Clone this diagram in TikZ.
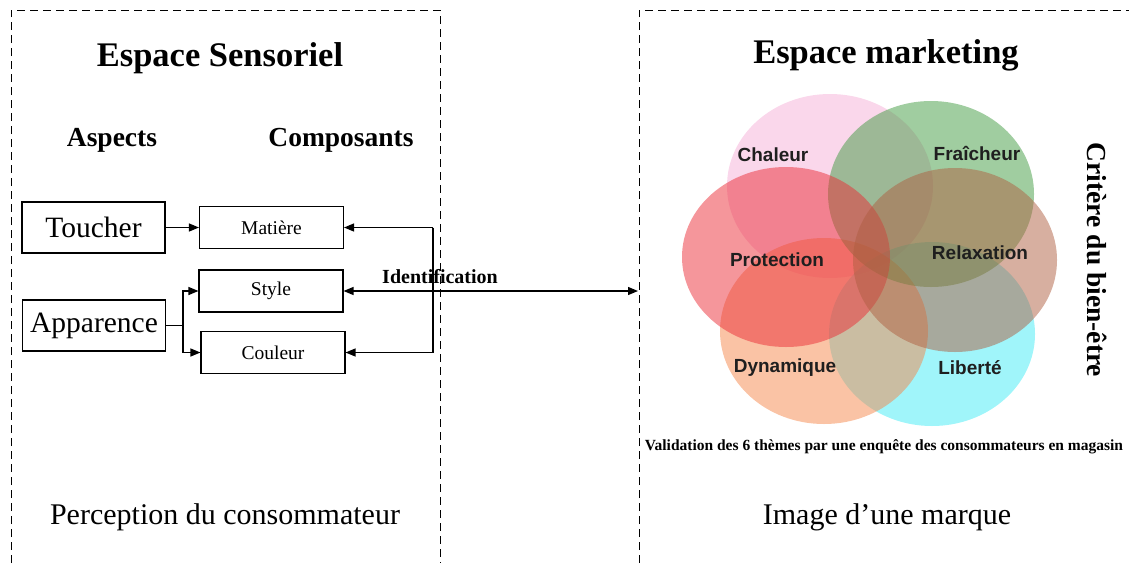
\documentclass[tikz,border=0pt]{standalone}
\usepackage{fontspec}
\setmainfont{Liberation Serif}
\newfontfamily\vennfont{Liberation Sans}
\usetikzlibrary{arrows.meta}

\definecolor{rose}{RGB}{245,175,215}
\definecolor{vert}{RGB}{65,155,65}
\definecolor{rouge}{RGB}{235,45,55}
\definecolor{brun}{RGB}{175,95,65}
\definecolor{orange}{RGB}{245,135,75}
\definecolor{cyan}{RGB}{65,235,245}

\tikzset{
	cadre/.style={dash pattern=on 8pt off 5pt, line width=0.9pt},
	titre/.style={font=\fontsize{34.5}{40}\selectfont\bfseries},
	entete/.style={font=\fontsize{27.5}{32}\selectfont\bfseries},
	bas/.style={font=\fontsize{30}{36}\selectfont},
	aspect/.style={draw, line width=1.1pt, minimum width=143pt, minimum height=51pt, inner sep=0pt, font=\fontsize{29.5}{34}\selectfont},
	composant/.style={draw, line width=1.1pt, minimum width=144pt, minimum height=42pt, inner sep=0pt, font=\fontsize{19.5}{23}\selectfont},
	fleche/.style={line width=1.3pt, -{Triangle[length=10pt,width=8pt]}},
	doublefleche/.style={line width=1.3pt, {Triangle[length=10pt,width=8pt]}-{Triangle[length=10pt,width=8pt]}},
	bulle/.style={fill opacity=0.5},
	theme/.style={font=\vennfont\bfseries\fontsize{19}{22}\selectfont, text=black!88},
}

\begin{document}
\begin{tikzpicture}[x=1pt, y=-1pt]

	\useasboundingbox (0,0) rectangle (1129,563);

	\draw[cadre] (11,563) |- (440,10) -- (440,563);
	\draw[cadre] (639,563) |- (1129,10);

	\node[titre] (sensoriel) at (220,58) {Espace Sensoriel};
	\node[titre] (marketing) at (886,55) {Espace marketing};
	\node[entete] (aspects) at (112,140) {Aspects};
	\node[entete] (composants) at (341,140) {Composants};

	\node[aspect] (toucher) at (93.5,227.5) {Toucher};
	\node[aspect] (apparence) at (94,325.5) {Apparence};
	\node[composant] (matiere) at (271.5,227.5) {Matière};
	\node[composant] (style) at (271,291) {Style};
	\node[composant] (couleur) at (273,352.5) {Couleur};

	\draw[fleche] (toucher) -- (matiere);
	\coordinate (partage) at (183,325.5);
	\draw[line width=1.3pt] (apparence) -- (partage);
	\draw[fleche] (partage) |- (style);
	\draw[fleche] (partage) |- (couleur);

	\coordinate (jonction) at (433,291);
	\coordinate (cible) at (638,291);
	\draw[line width=1.3pt] (jonction |- matiere) -- (jonction |- couleur);
	\draw[fleche] (jonction |- matiere) -- (matiere);
	\draw[fleche] (jonction |- couleur) -- (couleur);
	\draw[doublefleche] (style) -- (cible);
	\node[font=\fontsize{20}{24}\selectfont\bfseries] (identification) at (440,277) {Identification};

	\fill[bulle, fill=rose] (830,186) ellipse [x radius=103pt, y radius=92pt];
	\fill[bulle, fill=cyan] (932,334) ellipse [x radius=103pt, y radius=92pt];
	\fill[bulle, fill=orange] (824,331) ellipse [x radius=104pt, y radius=93pt];
	\fill[bulle, fill=vert] (931,194) ellipse [x radius=103pt, y radius=93pt];
	\fill[bulle, fill=rouge] (786,257) ellipse [x radius=104pt, y radius=90pt];
	\fill[bulle, fill=brun] (955,260) ellipse [x radius=102pt, y radius=92pt];

	\node[theme] (chaleur) at (773,155) {Chaleur};
	\node[theme] (fraicheur) at (977,153) {Fraîcheur};
	\node[theme] (protection) at (777,260) {Protection};
	\node[theme] (relaxation) at (980,253) {Relaxation};
	\node[theme] (dynamique) at (785,368) {Dynamique};
	\node[theme] (liberte) at (970,368) {Liberté};

	\node[font=\fontsize{15.5}{18}\selectfont\bfseries] (validation) at (884,447) {Validation des 6 thèmes par une enquête des consommateurs en magasin};
	\node[entete, rotate=-90] (critere) at (1097,260) {Critère du bien-être};

	\node[bas] (perception) at (225,517) {Perception du consommateur};
	\node[bas] (image) at (887,517) {Image d’une marque};
\end{tikzpicture}
\end{document}
